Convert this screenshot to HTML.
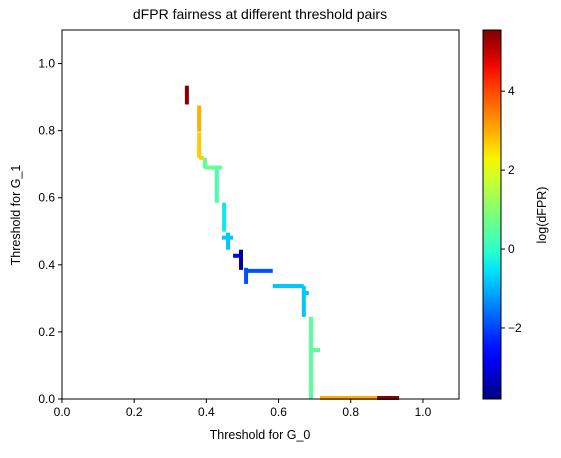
<!DOCTYPE html>
<html><head><meta charset="utf-8"><style>
body{margin:0;background:#fff;}
svg text{font-family:"Liberation Sans","DejaVu Sans",sans-serif;fill:#000;}
</style></head><body>
<svg id="chart" width="561" height="453" xmlns="http://www.w3.org/2000/svg">
<defs><linearGradient id="jet" x1="0" y1="1" x2="0" y2="0"></linearGradient></defs>
<text x="260" y="19" font-size="14" text-anchor="middle">dFPR fairness at different threshold pairs</text>
<g id="marks"></g>
<g id="axes"></g>
<text x="260" y="439" font-size="12.5" text-anchor="middle">Threshold for G_0</text>
<text transform="translate(20,215) rotate(-90)" font-size="12.5" text-anchor="middle">Threshold for G_1</text>
<text transform="translate(546,215) rotate(-90)" font-size="12.5" text-anchor="middle">log(dFPR)</text>
</svg>
<script>
const segX0 = [0.346,0.380,0.380,0.380,0.396,0.396,0.429,0.449,0.443,0.460,0.474,0.496,0.510,0.510,0.584,0.670,0.670,0.690,0.690,0.715,0.873];
const segY0 = [0.934,0.875,0.794,0.719,0.719,0.690,0.687,0.585,0.481,0.496,0.427,0.445,0.391,0.382,0.337,0.337,0.316,0.245,0.146,0.003,0.003];
const segX1 = [0.346,0.380,0.380,0.393,0.396,0.443,0.429,0.449,0.474,0.460,0.493,0.496,0.510,0.584,0.670,0.670,0.684,0.690,0.715,0.873,0.934];
const segY1 = [0.878,0.797,0.719,0.719,0.687,0.690,0.585,0.499,0.481,0.445,0.427,0.385,0.343,0.382,0.337,0.245,0.316,0.000,0.146,0.003,0.003];
const segVal = [5.5,3.0,2.7,2.7,0.6,0.6,0.3,-0.45,-0.8,-0.8,-2.8,-3.6,-1.9,-1.9,-0.8,-0.8,-0.8,0.5,0.5,3.0,5.5];
const xTicks = [0,0.2,0.4,0.6,0.8,1.0];
const yTicks = [0,0.2,0.4,0.6,0.8,1.0];
const cTicks = [-2,0,2,4];
const cMin = -3.8, cMax = 5.55;

const L=62,R=459,T=30,B=399;
const sx = v => L + v/1.1*(R-L);
const sy = v => B - v/1.1*(B-T);
const CL=483,CR=501;
const cy = v => B - (v-cMin)/(cMax-cMin)*(B-T);
function interp(pts,t){for(let i=1;i<pts.length;i++){if(t<=pts[i][0]){const [a,va]=pts[i-1],[b,vb]=pts[i];return va+(vb-va)*(t-a)/(b-a);}}return pts[pts.length-1][1];}
function jet(t){t=Math.max(0,Math.min(1,t));
 const r=interp([[0,0],[0.35,0],[0.66,1],[0.89,1],[1,0.5]],t);
 const g=interp([[0,0],[0.125,0],[0.375,1],[0.64,1],[0.91,0],[1,0]],t);
 const b=interp([[0,0.5],[0.11,1],[0.34,1],[0.65,0],[1,0]],t);
 return `rgb(${Math.round(r*255)},${Math.round(g*255)},${Math.round(b*255)})`;}
const NS="http://www.w3.org/2000/svg";
function mk(tag,attrs,parent){const e=document.createElementNS(NS,tag);for(const k in attrs)e.setAttribute(k,attrs[k]);parent.appendChild(e);return e;}
const marks=document.getElementById('marks'), axes=document.getElementById('axes');
for(let i=0;i<segX0.length;i++){
 const l=mk('line',{x1:sx(segX0[i]),y1:sy(segY0[i]),x2:sx(segX1[i]),y2:sy(segY1[i]),stroke:jet((segVal[i]-cMin)/(cMax-cMin)),'stroke-width':4,'stroke-linecap':'butt'},marks);
 
 
}
const frame=mk('rect',{x:L,y:T,width:R-L,height:B-T,fill:'none',stroke:'#000','stroke-width':1},axes);


xTicks.forEach(v=>{const x=sx(v);mk('line',{x1:x,y1:B,x2:x,y2:B+4,stroke:'#000'},axes);
 const t=mk('text',{x:x,y:B+17,'font-size':12,'text-anchor':'middle'},axes);t.textContent=v.toFixed(1);
 
 });
yTicks.forEach(v=>{const y=sy(v);mk('line',{x1:L,y1:y,x2:L-4,y2:y,stroke:'#000'},axes);
 const t=mk('text',{x:L-7,y:y+4,'font-size':12,'text-anchor':'end'},axes);t.textContent=v.toFixed(1);
 
 });
const grad=document.getElementById('jet');
for(let i=0;i<=20;i++){mk('stop',{offset:(i/20),'stop-color':jet(i/20)},grad);}
const cb=mk('rect',{x:CL,y:T,width:CR-CL,height:B-T,fill:'url(#jet)',stroke:'#000','stroke-width':1},axes);


cTicks.forEach(v=>{const y=cy(v);mk('line',{x1:CR,y1:y,x2:CR+4,y2:y,stroke:'#000'},axes);
 const t=mk('text',{x:CR+7,y:y+4,'font-size':12},axes);t.textContent=(v<0?'\u2212'+(-v):String(v));
 
 });
</script>
</body></html>
